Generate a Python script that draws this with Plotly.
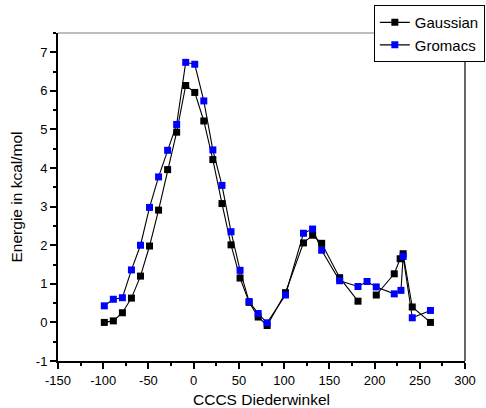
import plotly.graph_objects as go

# Data
gauss_x = [-98.8, -88.8, -78.8, -68.8, -58.8, -48.8, -38.8, -28.8, -18.8, -8.8,
           1.2, 11.2, 21.2, 31.3, 41.3, 51.3, 61.3, 71.3, 81.2, 101.5,
           121.4, 131.5, 141.5, 161.4, 181.7, 191.7, 201.9, 221.8, 228.3, 231.6,
           241.7, 261.8]
gauss_y = [0.00, 0.04, 0.25, 0.63, 1.20, 1.98, 2.91, 3.96, 4.93, 6.14,
           5.96, 5.22, 4.22, 3.08, 2.01, 1.15, 0.52, 0.14, -0.08, 0.77,
           2.06, 2.26, 2.05, 1.16, 0.55, None, 0.71, 1.26, 1.65, 1.78,
           0.40, 0.00]

grom_x = [-98.8, -88.8, -78.8, -68.8, -58.8, -48.8, -38.8, -28.8, -18.8, -8.8,
          1.2, 11.2, 21.2, 31.3, 41.3, 51.3, 61.3, 71.3, 81.2, 101.5,
          121.4, 131.5, 141.5, 161.4, 181.7, 191.7, 201.9, 221.8, 229.2, 231.6,
          241.7, 261.8]
grom_y = [0.43, 0.60, 0.64, 1.36, 2.00, 2.98, 3.77, 4.46, 5.13, 6.74,
          6.69, 5.74, 4.47, 3.55, 2.35, 1.35, 0.54, 0.23, -0.01, 0.71,
          2.31, 2.42, 1.87, 1.08, 0.93, 1.06, 0.92, 0.74, 0.83, 1.71,
          0.12, 0.31]

x_ticks = [-150, -100, -50, 0, 50, 100, 150, 200, 250, 300]
y_ticks = [-1, 0, 1, 2, 3, 4, 5, 6, 7]

FONT = "Liberation Sans, Arial, sans-serif"

fig = go.Figure()
fig.add_trace(go.Scatter(
    x=gauss_x, y=gauss_y, name="Gaussian", mode="lines+markers",
    line=dict(color="#000000", width=1.1),
    marker=dict(symbol="square", size=7, color="#000000", line=dict(width=0)),
    connectgaps=False,
))
fig.add_trace(go.Scatter(
    x=grom_x, y=grom_y, name="Gromacs", mode="lines+markers",
    line=dict(color="#000000", width=1.1),
    marker=dict(symbol="square", size=7, color="#0000ff", line=dict(width=0)),
))

fig.update_layout(
    width=486, height=408,
    margin=dict(l=58, r=21, t=33, b=47, autoexpand=False),
    paper_bgcolor="white", plot_bgcolor="white",
    font=dict(family=FONT, color="#000000", size=13),
    showlegend=True,
    legend=dict(
        x=0.776, y=1.085, xanchor="left", yanchor="top",
        bgcolor="white", bordercolor="#000000", borderwidth=1,
        font=dict(family=FONT, size=15, color="#000000"),
        tracegroupgap=0,
    ),
    xaxis=dict(
        range=[-150, 300], tickvals=x_ticks, ticktext=[str(v) for v in x_ticks],
        showgrid=False, zeroline=False, automargin=False,
        showline=True, linecolor="#000000", linewidth=2,
        ticks="outside", ticklen=6, tickwidth=1.5, tickcolor="#000000",
        tickfont=dict(family=FONT, size=13),
        minor=dict(dtick=25, ticks="outside", ticklen=3, tickwidth=1.5,
                   tickcolor="#000000", showgrid=False),
        title=dict(text="CCCS Diederwinkel", font=dict(family=FONT, size=15.5),
                   standoff=8),
    ),
    yaxis=dict(
        range=[-1, 7.5], tickvals=y_ticks, ticktext=[str(v) for v in y_ticks],
        showgrid=False, zeroline=False, automargin=False,
        showline=True, linecolor="#000000", linewidth=2,
        ticks="outside", ticklen=6, tickwidth=1.5, tickcolor="#000000",
        tickfont=dict(family=FONT, size=13),
        minor=dict(dtick=0.5, ticks="outside", ticklen=3, tickwidth=1.5,
                   tickcolor="#000000", showgrid=False),
        title=dict(text="Energie in kcal/mol", font=dict(family=FONT, size=15.5),
                   standoff=9),
    ),
    shapes=[
        dict(type="line", xref="paper", yref="paper", x0=0, x1=1, y0=1, y1=1,
             line=dict(color="#7f7f7f", width=1.2), layer="below"),
        dict(type="line", xref="paper", yref="paper", x0=1, x1=1, y0=0, y1=1,
             line=dict(color="#000000", width=1.2), layer="below"),
    ],
)

fig.write_html("out.html")
